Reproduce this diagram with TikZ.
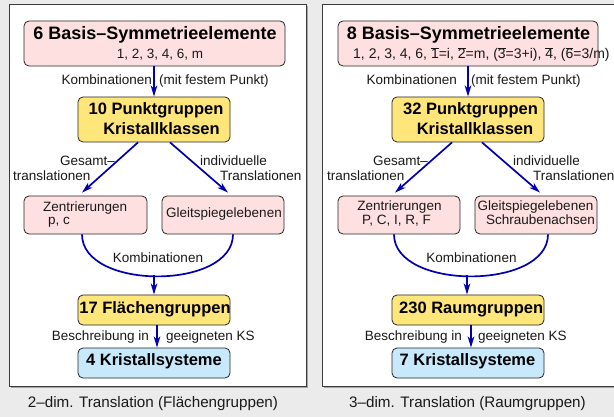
\documentclass[tikz,border=0pt]{standalone}
\usepackage{fontspec}
\setmainfont{Liberation Sans}
\usetikzlibrary{arrows.meta,calc}
\definecolor{bgc}{RGB}{235,235,235}
\definecolor{pinkc}{RGB}{255,224,224}
\definecolor{yellowc}{RGB}{255,230,122}
\definecolor{bluec}{RGB}{200,232,252}
\definecolor{arrc}{RGB}{0,0,175}
\definecolor{framec}{RGB}{60,60,60}
\definecolor{shadowc}{RGB}{165,165,165}
\newcommand\titlef{\fontsize{18}{20}\selectfont\bfseries}
\newcommand\boxf{\fontsize{16.5}{19}\selectfont\bfseries}
\newcommand\txtf{\fontsize{13.5}{15}\selectfont}
\newcommand\capf{\fontsize{15.2}{17}\selectfont}
\newcommand\obr[1]{$\overline{\mbox{#1}}$}
\tikzset{
  box/.style={draw=black!85, rounded corners=5pt, line width=0.8pt, inner sep=0pt},
  pinkbox/.style={box, fill=pinkc},
  yellowbox/.style={box, fill=yellowc},
  bluebox/.style={box, fill=bluec},
  lbl/.style={inner sep=0pt, font=\txtf, text=black!90},
  caplbl/.style={inner sep=0pt, font=\capf, text=black!90},
  blbl/.style={inner sep=0pt, font=\boxf},
  tlbl/.style={inner sep=0pt, font=\titlef},
  arr/.style={draw=arrc, line width=1.7pt, -{Stealth[length=11pt,width=6.5pt,inset=3pt]}},
  curv/.style={draw=arrc, line width=1.7pt},
  panel/.style={draw=framec, line width=1pt, fill=white},
}
\begin{document}
\begin{tikzpicture}[x=1pt,y=-1pt]
\useasboundingbox (0,0) rectangle (614,417);
\fill[bgc] (0,0) rectangle (614,417);
% panels
\fill[shadowc] (10.5,6.5) rectangle (307.8,387.8);
\draw[panel] (9,5) rectangle (306,386);
\fill[shadowc] (323.5,6.5) rectangle (624,387.8);
\draw[panel] (322,5) rectangle (622,386);

%%%%%%%%%%%% LEFT PANEL
\node[pinkbox, minimum width=261pt, minimum height=45pt] (tb) at (154.5,43.5) {};
\node[tlbl, anchor=base] (t1) at (155,40) {6 Basis--Symmetrieelemente};
\node[lbl, anchor=base] (s1) at (160,59) {1, 2, 3, 4, 6, m};

\node[yellowbox, minimum width=152pt, minimum height=45pt] (pg) at (154,119.5) {};
\node[blbl, anchor=base] (pga) at (156,115) {10 Punktgruppen};
\node[blbl, anchor=base] (pgb) at (161.5,135) {Kristallklassen};

\draw[arr] (pg.north |- tb.south) -- (pg.north);
\node[lbl, anchor=base east] (k1l) at (152,85) {Kombinationen};
\node[lbl, anchor=base west] (k1r) at (159,85) {(mit festem Punkt)};

\node[pinkbox, minimum width=123pt, minimum height=38pt] (zl) at (85.5,215) {};
\node[lbl, anchor=base west] (zla) at (43,212) {Zentrierungen};
\node[lbl, anchor=base west] (zlb) at (48,225) {p, c};

\node[pinkbox, minimum width=122pt, minimum height=38pt] (gl) at (223,215) {};
\node[lbl, anchor=base] (gla) at (224,218) {Gleitspiegelebenen};

\draw[arr] ($(pg.south)+(-16,0)$) -- ($(zl.north)+(-3.5,-3)$);
\draw[arr] ($(pg.south)+(16,0)$) -- ($(gl.north)+(5,-3)$);
\node[lbl, anchor=base east] (ga) at (115,166) {Gesamt--};
\node[lbl, anchor=base west] (gb) at (13,181) {translationen};
\node[lbl, anchor=base west] (ia) at (200,166) {individuelle};
\node[lbl, anchor=base west] (ib) at (220,181) {Translationen};

\node[yellowbox, minimum width=152pt, minimum height=30pt] (fg) at (154,310) {};
\node[blbl, anchor=base] (fga) at (155,313) {17 Flächengruppen};

\coordinate (cl) at ($(zl.south)+(-3.5,0)$);
\coordinate (cr) at ($(gl.south)+(10,0)$);
\draw[curv] (cl) .. controls ($(cl)+(0,56)$) and ($(cr)+(0,56)$) .. (cr);
\coordinate (cm) at (154,275);
\draw[arr] (cm) -- (fg.north);
\node[lbl, anchor=base] (kb) at (158,263) {Kombinationen};

\node[bluebox, minimum width=152pt, minimum height=30pt] (ks) at (154,363) {};
\node[blbl, anchor=base] (ksa) at (154,365) {4 Kristallsysteme};
\draw[arr] ($(fg.south)+(3,0)$) -- ($(ks.north)+(3,0)$);
\node[lbl, anchor=base east] (bl) at (149,340) {Beschreibung in};
\node[lbl, anchor=base west] (br) at (166,340) {geeigneten KS};

\node[caplbl, anchor=base] (cap1) at (153,407) {2--dim. Translation (Flächengruppen)};

%%%%%%%%%%%% RIGHT PANEL
\node[pinkbox, minimum width=260pt, minimum height=45pt] (tb2) at (468,43.5) {};
\node[tlbl, anchor=base] (t2) at (468.5,40) {8 Basis--Symmetrieelemente};
\node[lbl, anchor=base west, font=\fontsize{14}{15}\selectfont] (s2) at (353,59) {1, 2, 3, 4, 6, \obr{1}=i, \obr{2}=m, (\obr{3}=3+i), \obr{4}, (\obr{6}=3/m)};

\node[yellowbox, minimum width=152pt, minimum height=45pt] (pg2) at (468,119.5) {};
\node[blbl, anchor=base] (pg2a) at (470.5,115) {32 Punktgruppen};
\node[blbl, anchor=base] (pg2b) at (475,135) {Kristallklassen};

\draw[arr] (pg2.north |- tb2.south) -- (pg2.north);
\node[lbl, anchor=base east] (k2l) at (457,85) {Kombinationen};
\node[lbl, anchor=base west] (k2r) at (471,85) {(mit festem Punkt)};

\node[pinkbox, minimum width=122pt, minimum height=38pt] (zl2) at (399,215) {};
\node[lbl, anchor=base] (zl2a) at (399.5,211) {Zentrierungen};
\node[lbl, anchor=base] (zl2b) at (396.5,225) {P, C, I, R, F};

\node[pinkbox, minimum width=122pt, minimum height=38pt] (gl2) at (536,215) {};
\node[lbl, anchor=base] (gl2a) at (535.5,211) {Gleitspiegelebenen};
\node[lbl, anchor=base] (gl2b) at (540.5,225) {Schraubenachsen};

\draw[arr] ($(pg2.south)+(-16,0)$) -- ($(zl2.north)+(-4,-3)$);
\draw[arr] ($(pg2.south)+(14,0)$) -- ($(gl2.north)+(4,-3)$);
\node[lbl, anchor=base east] (g2a) at (428,166) {Gesamt--};
\node[lbl, anchor=base west] (g2b) at (327,181) {translationen};
\node[lbl, anchor=base west] (i2a) at (513,166) {individuelle};
\node[lbl, anchor=base west] (i2b) at (533,181) {Translationen};

\node[yellowbox, minimum width=152pt, minimum height=30pt] (rg) at (468,310) {};
\node[blbl, anchor=base west] (rga) at (399,313) {230 Raumgruppen};

\coordinate (cl2) at ($(zl2.south)+(-5,0)$);
\coordinate (cr2) at ($(gl2.south)+(12,0)$);
\draw[curv] (cl2) .. controls ($(cl2)+(0,56)$) and ($(cr2)+(0,56)$) .. (cr2);
\coordinate (cm2) at (467,275);
\draw[arr] (cm2) -- (cm2 |- rg.north);
\node[lbl, anchor=base] (kb2) at (471.5,263) {Kombinationen};

\node[bluebox, minimum width=152pt, minimum height=30pt] (ks2) at (468,363) {};
\node[blbl, anchor=base] (ks2a) at (467.5,365) {7 Kristallsysteme};
\draw[arr] ($(rg.south)+(3,0)$) -- ($(ks2.north)+(3,0)$);
\node[lbl, anchor=base east] (bl2) at (462,340) {Beschreibung in};
\node[lbl, anchor=base west] (br2) at (478,340) {geeigneten KS};

\node[caplbl, anchor=base] (cap2) at (467.5,407) {3--dim. Translation (Raumgruppen)};
\end{tikzpicture}
\end{document}
